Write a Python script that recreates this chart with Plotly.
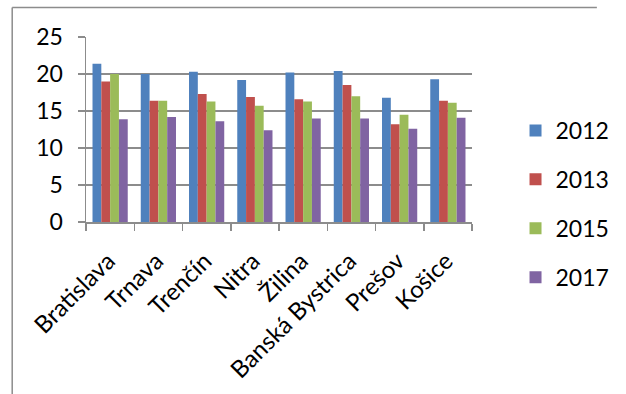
import plotly.graph_objects as go

regions = ["Bratislava", "Trnava", "Trenčín", "Nitra", "Žilina",
           "Banská Bystrica", "Prešov", "Košice"]
years = ["2012", "2013", "2015", "2017"]
v2012 = [21.4, 20.0, 20.3, 19.2, 20.2, 20.4, 16.8, 19.3]
v2013 = [19.0, 16.4, 17.3, 16.9, 16.6, 18.5, 13.2, 16.4]
v2015 = [20.0, 16.4, 16.3, 15.7, 16.3, 17.0, 14.5, 16.1]
v2017 = [13.9, 14.2, 13.6, 12.4, 14.0, 14.0, 12.6, 14.1]
y_ticks = [0, 5, 10, 15, 20, 25]

series = [v2012, v2013, v2015, v2017]
colors = ["#4F81BD", "#C0504D", "#9BBB59", "#8064A2"]

FONT = "Lato, Liberation Sans, sans-serif"
GRID = "#8c8c8c"
FS = 23

W, H = 626, 394
L, R, T, B = 86, 132, 37, 172
plot_w = W - L - R
plot_h = H - T - B


def px_x(x):
    return (x - L) / plot_w


def px_y(y):
    return (H - B - y) / plot_h


fig = go.Figure()
for name, vals, col in zip(years, series, colors):
    fig.add_trace(go.Bar(
        name=name, x=regions, y=vals, marker_color=col,
        marker_line_width=0, legendgroup=name,
    ))

# chart frame edges (left and top)
frame = dict(color="#8c8c8c", width=1.5)
shapes = [
    dict(type="line", xref="paper", yref="paper",
         x0=px_x(8), x1=px_x(8), y0=px_y(H), y1=px_y(7.5), line=frame),
    dict(type="line", xref="paper", yref="paper",
         x0=px_x(8), x1=px_x(W), y0=px_y(7.5), y1=px_y(7.5), line=frame),
]

fig.update_layout(
    width=W, height=H,
    margin=dict(l=L, r=R, t=T, b=B),
    paper_bgcolor="white", plot_bgcolor="white",
    barmode="group", bargap=0.27, bargroupgap=0,
    font=dict(family=FONT, size=FS, color="black"),
    showlegend=True,
    legend=dict(
        x=px_x(540), xanchor="left",
        y=px_y(204), yanchor="middle",
        font=dict(size=FS), tracegroupgap=16,
        itemwidth=30, bgcolor="rgba(0,0,0,0)", maxheight=360,
    ),
    xaxis=dict(
        type="category", tickangle=-45,
        tickson="boundaries", ticks="outside", ticklen=7,
        tickcolor=GRID, tickwidth=1.5,
        showline=True, linecolor=GRID, linewidth=1.5,
        showgrid=False, tickfont=dict(size=24),
        ticklabelstandoff=14, ticklabelshift=-2,
    ),
    yaxis=dict(
        range=[0, 25], tickvals=y_ticks,
        ticks="outside", ticklen=7, tickcolor=GRID, tickwidth=1.5,
        showline=True, linecolor=GRID, linewidth=1.5,
        showgrid=True, gridcolor=GRID, gridwidth=1.5,
        zeroline=False, tickfont=dict(size=FS),
        ticklabelstandoff=10,
    ),
    shapes=shapes,
)

fig.write_html("out.html", config={"staticPlot": True})
